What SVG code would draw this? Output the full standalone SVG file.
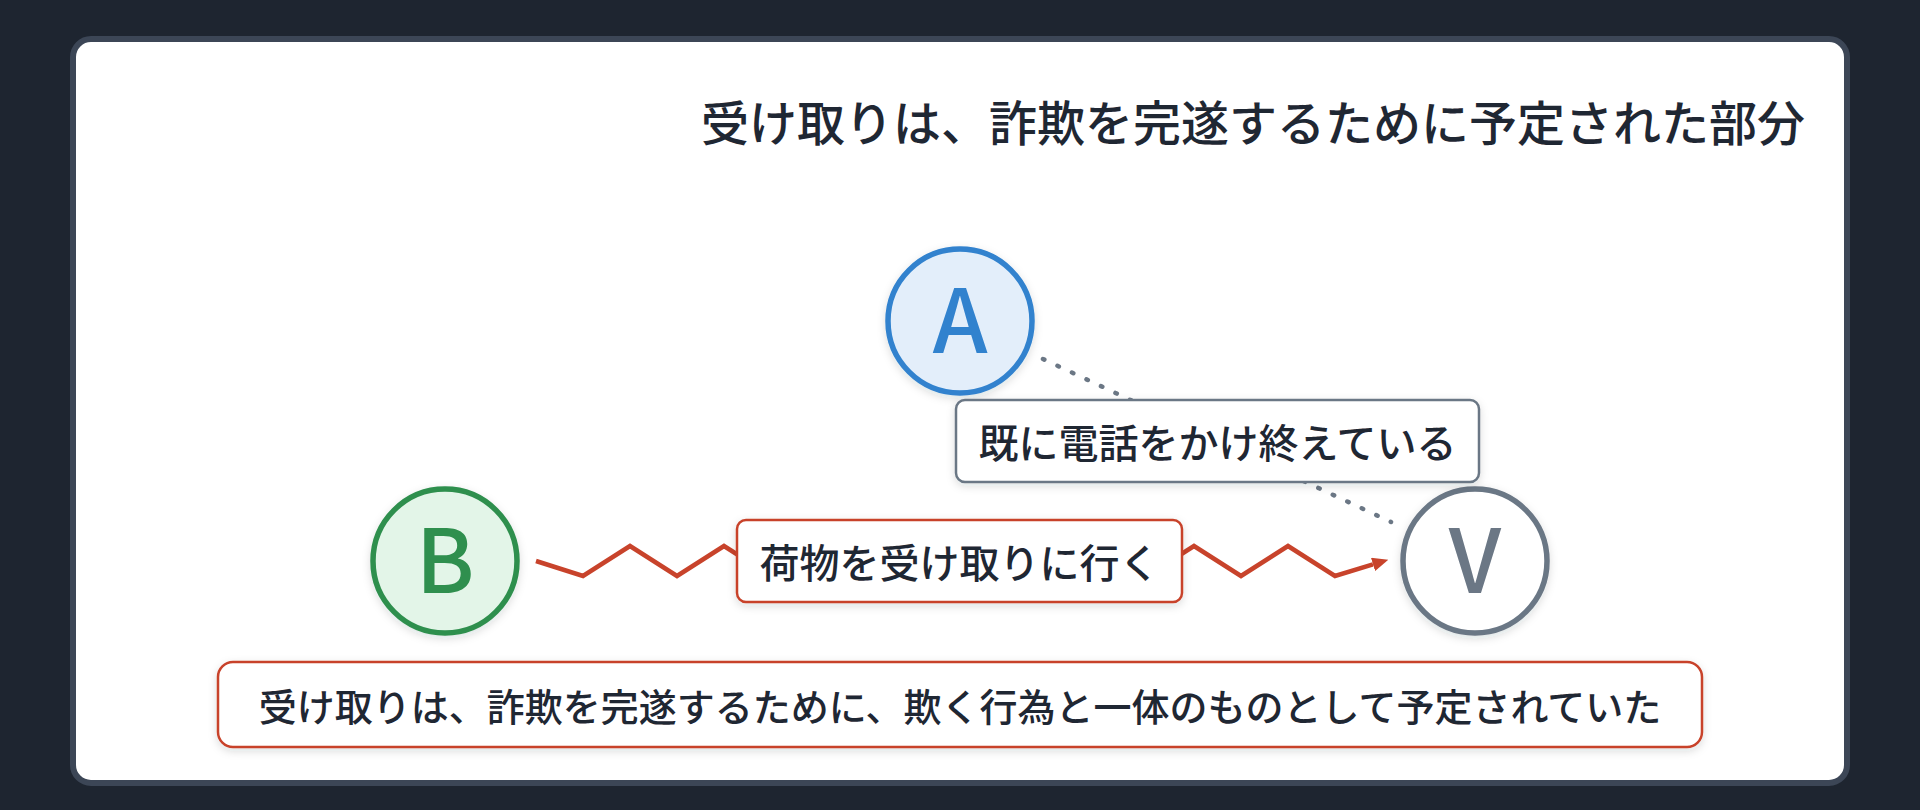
<svg xmlns="http://www.w3.org/2000/svg" width="1920" height="810" viewBox="0 0 1920 810">
  <defs>
    <style>
      .txt { font-family: "Noto Sans CJK JP", "Noto Sans", sans-serif; fill: #1f2733; }
      .title { font-size: 48px; font-weight: 500; }
      .lbl { font-size: 40px; font-weight: 500; }
      .lbl-sm { font-size: 38px; font-weight: 500; }
      .letter { font-family: "Noto Sans CJK JP", "Noto Sans", sans-serif; font-size: 88px; font-weight: 500; }
      .box { fill: #ffffff; stroke-width: 2.5; }
      .node { stroke-width: 5.5; }
    </style>
    <filter id="shadow" x="-20%" y="-20%" width="140%" height="150%">
      <feDropShadow dx="0" dy="3" stdDeviation="4" flood-color="#1f2733" flood-opacity="0.14"/>
    </filter>
    <marker id="arrow" markerUnits="userSpaceOnUse" markerWidth="16" markerHeight="14" refX="0" refY="7" orient="auto">
      <path d="M0,0 L16,7 L0,14 z" fill="#c8432b"/>
    </marker>
  </defs>

  <rect x="0" y="0" width="1920" height="810" fill="#1e2530"/>
  <rect x="73" y="39" width="1774" height="744" rx="18" fill="#ffffff" stroke="#3c4656" stroke-width="6"/>

  <g id="title">
    <text class="txt title" x="1805" y="141" text-anchor="end">受け取りは、詐欺を完遂するために予定された部分</text>
  </g>

  <g id="connectors">
    <line x1="1043" y1="359" x2="1391" y2="522" stroke="#6b7785" stroke-width="4.5" stroke-linecap="round" stroke-dasharray="1.5 14.5"/>
    <polyline points="536,561 583,576 630,546 677,576 724,546 771,576 818,546 865,576 912,546 959,576 1006,546 1053,576 1100,546 1147,576 1194,546 1241,576 1288,546 1335,576 1373,564.4" fill="none" stroke="#c8432b" stroke-width="4.5" stroke-linejoin="miter" marker-end="url(#arrow)"/>
  </g>

  <g id="node-A">
    <circle class="node" cx="960" cy="321" r="72" fill="#e3eefa" stroke="#3182ce" filter="url(#shadow)"/>
    <text class="letter" x="960" y="353" text-anchor="middle" fill="#3182ce">A</text>
  </g>

  <g id="node-B">
    <circle class="node" cx="445" cy="561" r="72" fill="#e3f5e8" stroke="#2f8f4e" filter="url(#shadow)"/>
    <text class="letter" x="445" y="593" text-anchor="middle" fill="#2f8f4e">B</text>
  </g>

  <g id="node-V">
    <circle class="node" cx="1475" cy="561" r="72" fill="#ffffff" stroke="#6b7785" filter="url(#shadow)"/>
    <text class="letter" x="1475" y="593" text-anchor="middle" fill="#6b7785">V</text>
  </g>

  <g id="label-called">
    <rect class="box" x="956" y="400" width="523" height="82" rx="9" stroke="#6b7785" filter="url(#shadow)"/>
    <text class="txt lbl" x="1217.5" y="441" text-anchor="middle" dominant-baseline="central">既に電話をかけ終えている</text>
  </g>

  <g id="label-pickup">
    <rect class="box" x="737" y="520" width="445" height="82" rx="9" stroke="#c8432b" filter="url(#shadow)"/>
    <text class="txt lbl" x="959.5" y="561" text-anchor="middle" dominant-baseline="central">荷物を受け取りに行く</text>
  </g>

  <g id="label-bottom">
    <rect class="box" x="218" y="662" width="1484" height="85" rx="15" stroke="#c8432b" stroke-width="3" filter="url(#shadow)"/>
    <text class="txt lbl-sm" x="960" y="704.5" text-anchor="middle" dominant-baseline="central">受け取りは、詐欺を完遂するために、欺く行為と一体のものとして予定されていた</text>
  </g>
</svg>
